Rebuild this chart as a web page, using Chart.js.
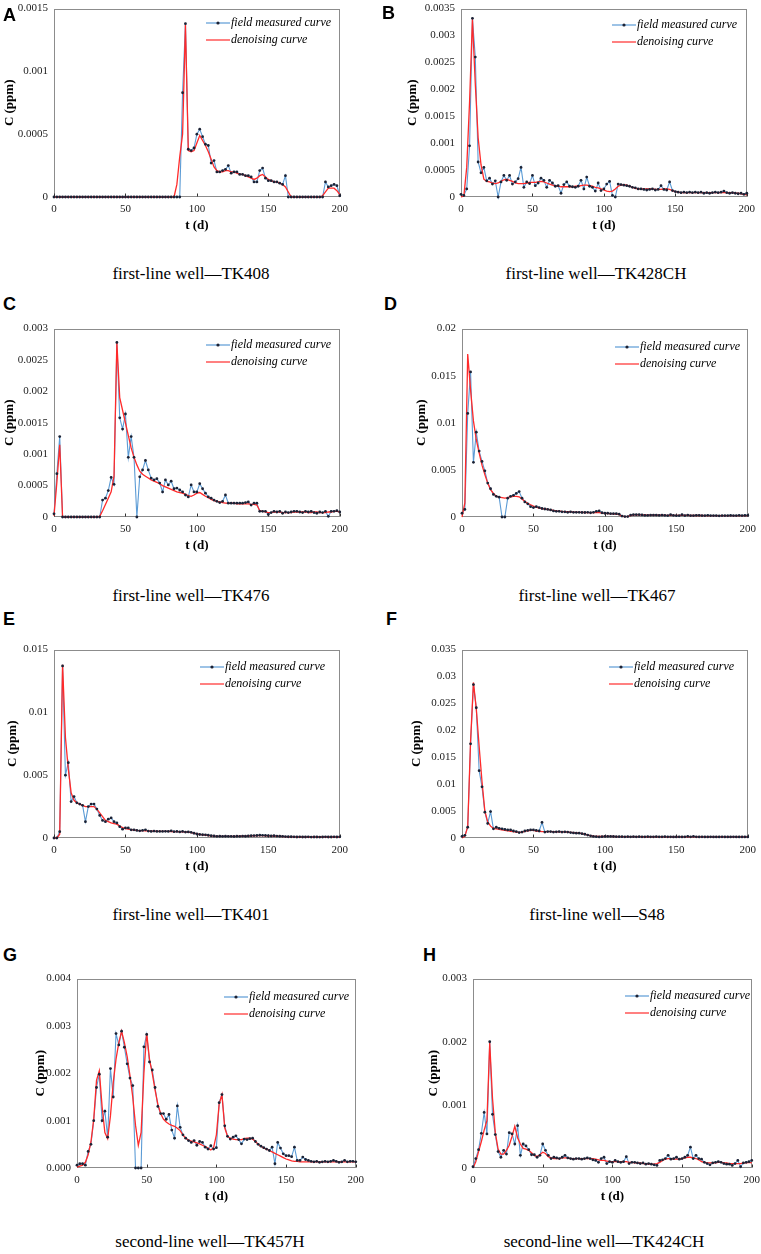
<!DOCTYPE html>
<html>
<head>
<meta charset="utf-8">
<script src="https://cdn.jsdelivr.net/npm/chart.js@4.4.1/dist/chart.umd.min.js"></script>
<style>
  html, body { margin: 0; padding: 0; background: #fff; }
  #page { position: relative; width: 761px; height: 1254px; overflow: hidden; }
  .panel { position: absolute; }
  .letter { position: absolute; font: bold 18px "Liberation Sans", Arial, sans-serif; line-height: 18px; color: #000; }
  .caption { position: absolute; width: 300px; text-align: center; font: 17px "Liberation Serif", "Times New Roman", serif;
             line-height: 18px; color: #000; white-space: nowrap; }
</style>
</head>
<body>
<div id="page"></div>
<script>
// sampling days (x axis)
const DAYS = [
  0, 2, 4, 6, 8, 10, 12, 14, 16, 18,
  20, 22, 24, 26, 28, 30, 32, 34, 36, 38,
  40, 42, 44, 46, 48, 50, 52, 54, 56, 58,
  60, 62, 64, 66, 68, 70, 72, 74, 76, 78,
  80, 82, 84, 86, 88, 90, 92, 94, 96, 98,
  100, 102, 104, 106, 108, 110, 112, 114, 116, 118,
  120, 122, 124, 126, 128, 130, 132, 134, 136, 138,
  140, 142, 144, 146, 148, 150, 152, 154, 156, 158,
  160, 162, 164, 166, 168, 170, 172, 174, 176, 178,
  180, 182, 184, 186, 188, 190, 192, 194, 196, 198,
  200
];
const X_TICKS = ['0', '50', '100', '150', '200'];

// all concentrations below are in units of 1e-4 ppm
const tk408Field = [
  0, 0, 0, 0, 0, 0, 0, 0, 0, 0,
  0, 0, 0, 0, 0, 0, 0, 0, 0, 0,
  0, 0, 0, 0, 0, 0, 0, 0, 0, 0,
  0, 0, 0, 0, 0, 0, 0, 0, 0, 0,
  0, 0, 0, 0, 0, 8.3, 13.8, 3.8, 3.7, 3.9,
  5.0, 5.4, 4.8, 4.2, 4.1, 2.7, 2.9, 2.0, 2.0, 2.1,
  2.2, 2.5, 1.9, 2.0, 2.0, 1.8, 1.8, 1.7, 1.7, 1.6,
  1.2, 1.2, 2.1, 2.3, 1.5, 1.3, 1.3, 1.2, 1.2, 1.1,
  1.0, 1.7, 0, 0, 0, 0, 0, 0, 0, 0,
  0, 0, 0, 0, 0, 1.2, 0.8, 0.9, 1.0, 0.9,
  0.1
];
const tk408Denoise = [
  0, 0, 0, 0, 0, 0, 0, 0, 0, 0,
  0, 0, 0, 0, 0, 0, 0, 0, 0, 0,
  0, 0, 0, 0, 0, 0, 0, 0, 0, 0,
  0, 0, 0, 0, 0, 0, 0, 0, 0, 0,
  0, 0, 0, 1.0, 3.2, 5.0, 13.7, 3.7, 3.6, 3.7,
  4.3, 4.9, 4.5, 4.1, 3.6, 3.0, 2.4, 2.1, 2.0, 2.0,
  2.1, 2.1, 2.0, 2.0, 1.9, 1.8, 1.8, 1.7, 1.6, 1.5,
  1.4, 1.5, 1.7, 1.8, 1.6, 1.4, 1.3, 1.2, 1.2, 1.1,
  1.0, 0.8, 0.4, 0, 0, 0, 0, 0, 0, 0,
  0, 0, 0, 0, 0.1, 0.4, 0.7, 0.7, 0.7, 0.5,
  0.2
];

const tk428chField = [
  0.5, 0.3, 1.5, 9.5, 33.2, 26.0, 6.5, 4.5, 5.5, 3.0,
  3.5, 2.4, 3.0, 0, 2.8, 4.0, 3.1, 4.0, 2.4, 2.8,
  3.4, 5.5, 1.8, 2.8, 2.5, 4.0, 2.1, 2.6, 3.5, 3.1,
  1.8, 3.1, 2.6, 2.0, 2.1, 0.7, 2.3, 2.8, 2.0, 1.9,
  1.8, 2.0, 3.1, 1.5, 3.7, 2.0, 1.8, 1.1, 2.6, 1.2,
  1.5, 2.4, 2.9, 0.3, 0, 2.4, 2.3, 2.2, 2.1, 2.0,
  1.8, 1.7, 1.5, 1.5, 1.4, 1.3, 1.4, 1.5, 1.3, 1.4,
  2.1, 1.4, 1.3, 2.8, 1.2, 1.0, 0.9, 0.8, 0.9, 0.8,
  0.9, 0.8, 0.9, 0.8, 0.9, 0.7, 0.8, 0.7, 0.8, 0.9,
  0.8, 0.9, 1.1, 0.8, 0.7, 0.8, 0.7, 0.6, 0.7, 0.5,
  0.7
];
const tk428chDenoise = [
  0, 0.2, 5.5, 17.7, 33.0, 21.0, 11.0, 6.0, 3.3, 2.9,
  2.8, 2.6, 2.5, 2.6, 2.9, 3.2, 3.3, 3.1, 2.9, 2.6,
  2.5, 2.5, 2.5, 2.6, 2.7, 2.7, 2.7, 2.8, 2.9, 2.8,
  2.6, 2.4, 2.2, 2.1, 2.0, 1.9, 1.9, 1.9, 1.9, 1.9,
  2.0, 2.0, 2.1, 2.2, 2.2, 2.1, 2.0, 1.8, 1.7, 1.5,
  1.3, 1.1, 1.0, 1.1, 1.5, 2.0, 2.2, 2.3, 2.2, 2.0,
  1.8, 1.6, 1.5, 1.5, 1.5, 1.5, 1.5, 1.5, 1.4, 1.4,
  1.4, 1.5, 1.5, 1.4, 1.2, 1.0, 0.9, 0.8, 0.8, 0.8,
  0.8, 0.8, 0.8, 0.8, 0.8, 0.8, 0.8, 0.8, 0.8, 0.8,
  0.8, 0.8, 0.8, 0.8, 0.8, 0.8, 0.7, 0.7, 0.6, 0.5,
  0.4
];

const tk476Field = [
  0.5, 6.9, 12.8, 0, 0, 0, 0, 0, 0, 0,
  0, 0, 0, 0, 0, 0, 0, 2.7, 3.0, 4.2,
  6.3, 5.2, 27.8, 15.8, 14.0, 16.4, 9.5, 12.8, 9.5, 0,
  6.4, 7.5, 9.0, 7.5, 6.2, 5.9, 6.1, 5.4, 4.0, 5.9,
  5.1, 5.7, 4.5, 4.6, 4.3, 4.0, 3.5, 3.2, 5.1, 4.0,
  4.0, 5.3, 4.5, 3.8, 3.2, 3.0, 2.7, 2.5, 2.3, 2.5,
  3.5, 2.2, 2.2, 2.2, 2.2, 2.2, 2.2, 2.3, 2.4, 1.9,
  2.2, 2.2, 0.9, 0.9, 0.9, 0.4, 0.7, 0.9, 0.8, 0.9,
  0.6, 0.8, 0.7, 0.8, 0.9, 0.9, 0.8, 0.7, 0.9, 0.8,
  0.9, 0.7, 0.6, 0.8, 0.7, 0.9, 0.1, 0.9, 0.9, 1.0,
  0.8
];
const tk476Denoise = [
  0.2, 5.5, 11.5, 0, 0, 0, 0, 0, 0, 0,
  0, 0, 0, 0, 0, 0, 0.1, 1.0, 2.0, 3.0,
  4.0, 6.5, 27.8, 19.0, 17.0, 15.0, 13.0, 11.0, 9.5, 8.3,
  7.3, 6.8, 6.5, 6.2, 5.9, 5.7, 5.5, 5.3, 5.0, 4.8,
  4.6, 4.4, 4.2, 4.0, 3.9, 3.8, 3.6, 3.4, 3.3, 3.5,
  3.8, 3.9, 3.6, 3.3, 3.1, 2.8, 2.6, 2.5, 2.4, 2.3,
  2.2, 2.2, 2.2, 2.2, 2.1, 2.1, 2.1, 2.1, 2.1, 2.0,
  2.0, 1.9, 1.0, 0.9, 0.8, 0.7, 0.7, 0.8, 0.8, 0.8,
  0.7, 0.7, 0.7, 0.7, 0.8, 0.8, 0.8, 0.8, 0.8, 0.7,
  0.7, 0.8, 0.8, 0.7, 0.7, 0.7, 0.8, 0.8, 0.9, 0.9,
  0.8
];

const tk467Field = [
  4, 8, 110, 154, 58, 90, 70, 59, 49, 36,
  30, 24, 22, 21, 0, 0, 20, 22, 23, 25,
  27, 20, 16, 14, 11, 10, 11, 10, 9, 8.5,
  8, 7.5, 6.5, 6, 6, 5.5, 5.5, 5, 5.5, 5,
  5, 5, 4.8, 4.8, 5, 4.5, 5, 6, 6.5, 4.5,
  4, 4, 3.5, 3.5, 3.5, 3, 1, 0.5, 0.5, 2,
  2.5, 2.5, 2.5, 2.2, 1.8, 1.8, 2, 2, 2, 1.8,
  2, 1.8, 1.5, 2.5, 1.8, 1.5, 1.5, 2.5, 1.5, 2,
  1.5, 1.5, 1.8, 1.8, 1.5, 1.5, 1.8, 1.5, 1.5, 1.5,
  1.2, 1.5, 1.5, 1.5, 1.7, 1.5, 1.5, 1.8, 1.5, 1.7,
  1.7
];
const tk467Denoise = [
  0, 15, 173, 135, 102, 82, 68, 55, 45, 36,
  29, 25, 22, 21, 20.5, 20, 20.5, 21.5, 22, 22,
  21.5, 19, 16.5, 14.5, 13, 11.5, 10.5, 9.5, 9, 8.5,
  8, 7.5, 7, 6.6, 6.3, 6, 5.8, 5.6, 5.4, 5.2,
  5.1, 5, 4.9, 4.8, 4.7, 4.6, 4.6, 4.8, 4.6, 4.2,
  3.9, 3.7, 3.5, 3.4, 3.2, 2.5, 0.8, 0.3, 0.6, 1.5,
  2.2, 2.3, 2.3, 2.2, 2.1, 2.0, 2.0, 2.0, 2.0, 1.9,
  1.9, 1.8, 1.8, 1.8, 1.8, 1.7, 1.7, 1.7, 1.7, 1.7,
  1.6, 1.6, 1.6, 1.6, 1.6, 1.5, 1.5, 1.5, 1.5, 1.4,
  1.4, 1.4, 1.5, 1.5, 1.5, 1.5, 1.5, 1.5, 1.5, 1.5,
  1.5
];

const tk401Field = [
  0, 0, 5, 137, 50, 60, 29, 33, 28, 27,
  26, 13, 25, 27, 27, 23, 18, 14, 13, 15,
  16, 13, 12, 9, 7, 8, 8, 6.5, 6.5, 6,
  5.7, 6, 6.5, 5.5, 5.2, 5.5, 5.2, 5.2, 5.2, 5.3,
  5.2, 5.7, 5, 5.2, 4.8, 5.2, 4.7, 4.8, 4.5, 3.8,
  3.2, 2.8, 2.6, 2.5, 2.2, 1.8, 1.6, 1.3, 1.4, 1.3,
  1.4, 1.3, 1.3, 1.2, 1.4, 1.3, 1.5, 1.4, 1.6, 1.8,
  1.9, 2.0, 2.2, 2.1, 2.0, 1.8, 1.6, 1.8, 1.5, 1.4,
  1.3, 1.1, 1.0, 1.0, 0.9, 0.8, 0.9, 0.8, 0.8, 0.9,
  0.7, 0.8, 0.8, 0.7, 0.8, 0.9, 0.8, 0.8, 0.9, 0.8,
  0.9
];
const tk401Denoise = [
  0, 0, 3, 138, 80, 55, 36, 30, 28, 27,
  26, 25, 25, 25, 25, 23, 20, 17, 14, 13,
  12, 11.5, 11, 9.5, 8.3, 7.5, 7, 6.6, 6.3, 6,
  5.9, 5.8, 5.7, 5.6, 5.5, 5.4, 5.3, 5.3, 5.2, 5.2,
  5.2, 5.1, 5.1, 5, 5, 4.9, 4.8, 4.6, 4.3, 3.8,
  3.3, 2.9, 2.6, 2.3, 2.0, 1.7, 1.5, 1.3, 1.3, 1.3,
  1.3, 1.3, 1.3, 1.3, 1.3, 1.4, 1.4, 1.5, 1.6, 1.7,
  1.8, 1.9, 1.9, 1.9, 1.8, 1.7, 1.6, 1.5, 1.4, 1.3,
  1.2, 1.1, 1.0, 0.9, 0.9, 0.8, 0.8, 0.8, 0.8, 0.8,
  0.8, 0.8, 0.8, 0.8, 0.8, 0.8, 0.8, 0.8, 0.8, 0.8,
  0.8
];

const s48Field = [
  3, 5, 20, 175, 285, 242, 125, 95, 48, 27,
  49, 17, 20, 18, 17, 16, 15, 15, 13, 12,
  10, 11, 13, 14, 15, 15, 14, 13, 29, 11,
  12, 12, 11, 11.5, 12, 11, 11.5, 11, 10, 9.5,
  9, 9, 8, 7, 5.5, 4, 3, 2.5, 2, 2.5,
  3, 3, 3, 2.8, 2.5, 2.5, 2.4, 2.2, 2.4, 2.2,
  2.4, 2.2, 2.4, 2.2, 2.2, 2.4, 2.2, 2.2, 2.4, 2.2,
  2.2, 2.4, 2.2, 2.2, 2, 2, 2.2, 2, 2.2, 3,
  2.2, 3, 2.2, 2, 2.2, 2, 2, 2.2, 2, 2,
  2, 2.2, 2, 2, 2, 2.2, 2, 2, 2, 2,
  2
];
const s48Denoise = [
  0, 3, 21, 180, 289, 240, 170, 105, 50, 30,
  22, 18, 17, 16, 15, 14, 13.5, 12.5, 12, 11,
  10.5, 11, 12.5, 13.5, 14, 14, 13, 12.5, 12, 12,
  12, 12, 12, 11.5, 11.5, 11.5, 11.5, 11, 10.5, 10,
  9.5, 9, 8, 7, 5.5, 4.5, 3.5, 3, 2.8, 2.8,
  3, 3, 3, 2.8, 2.7, 2.6, 2.5, 2.5, 2.5, 2.4,
  2.4, 2.4, 2.4, 2.3, 2.3, 2.3, 2.3, 2.3, 2.2, 2.2,
  2.2, 2.2, 2.2, 2.2, 2.1, 2.1, 2.1, 2.1, 2.2, 2.3,
  2.3, 2.3, 2.2, 2.1, 2.1, 2.0, 2.0, 2.0, 2.0, 2.0,
  2.0, 2.0, 2.0, 2.0, 2.0, 2.0, 2.0, 2.0, 2.0, 2.0,
  2.0
];

const tk457hField = [
  0.6, 0.9, 0.9, 0.6, 3.5, 5.0, 10.0, 17.0, 19.8, 10.0,
  12.0, 6.5, 21.0, 15.0, 28.4, 26.0, 28.9, 25.5, 22.0, 19.0,
  17.4, 0, 0, 0, 25.6, 28.2, 22.4, 20.7, 17.0, 13.0,
  11.5, 11.5, 10.3, 11.3, 8.0, 6.3, 13.1, 8.6, 7.0, 6.3,
  5.8, 5.4, 5.8, 4.8, 5.6, 5.4, 4.4, 4.0, 4.7, 4.0,
  4.3, 13.8, 15.5, 8.9, 6.7, 6.1, 6.5, 6.8, 6.0, 5.1,
  6.1, 6.0, 6.2, 6.3, 5.6, 5.0, 4.6, 4.3, 4.0, 3.7,
  4.4, 0.9, 5.4, 4.2, 3.0, 2.6, 2.6, 2.4, 4.4, 1.6,
  1.6, 2.3, 1.8, 1.6, 1.4, 1.3, 1.4, 1.2, 1.3, 1.4,
  1.3, 1.4, 1.6, 1.4, 1.2, 1.3, 1.6, 1.3, 1.4, 1.4,
  1.3
];
const tk457hDenoise = [
  0.2, 0.4, 0.6, 1.2, 2.8, 5.5, 10.3, 18.5, 20.5, 13.0,
  7.5, 6.2, 11.0, 18.0, 23.0, 26.5, 28.9, 26.5, 23.5, 19.5,
  15.0, 9.0, 4.8, 7.5, 20.0, 28.5, 23.0, 20.0, 16.5, 13.5,
  11.5, 10.3, 9.7, 9.3, 9.0, 8.8, 8.4, 7.9, 7.0, 6.3,
  5.9, 5.7, 5.5, 5.3, 5.1, 4.8, 4.5, 4.2, 3.8, 4.3,
  7.0, 13.5, 15.5, 8.5, 6.7, 6.3, 6.1, 6.0, 6.0, 6.0,
  6.2, 6.3, 6.3, 6.1, 5.6, 5.0, 4.6, 4.2, 4.0, 3.7,
  3.4, 3.1, 2.8, 2.5, 2.2, 1.9, 1.7, 1.5, 1.4, 1.4,
  1.3, 1.3, 1.3, 1.3, 1.3, 1.3, 1.3, 1.3, 1.3, 1.3,
  1.3, 1.3, 1.3, 1.3, 1.3, 1.3, 1.3, 1.3, 1.3, 1.3,
  1.3
];

const tk424chField = [
  0.2, 1.5, 2.9, 5.5, 8.8, 5.4, 20.0, 8.5, 5.3, 2.6,
  1.7, 2.8, 2.2, 5.6, 5.4, 3.8, 6.7, 2.0, 3.8, 3.5,
  2.9, 2.1, 2.1, 1.7, 2.0, 3.8, 2.8, 2.0, 1.5, 1.7,
  1.6, 1.5, 1.7, 2.0, 1.6, 1.5, 1.4, 1.5, 1.5, 1.4,
  1.5, 1.6, 1.5, 1.3, 1.2, 0.9, 1.5, 1.7, 0.7, 1.0,
  0.9, 1.2, 1.0, 0.9, 1.0, 1.8, 0.7, 0.9, 0.9, 0.8,
  0.7, 0.8, 0.6, 0.7, 0.6, 0.5, 0.4, 1.2, 1.3, 1.5,
  2.0, 1.4, 1.5, 1.7, 1.4, 1.5, 1.7, 2.0, 3.3, 1.5,
  2.0, 1.5, 1.4, 0.9, 0.7, 0.5, 0.8, 0.9, 1.0, 0.9,
  0.7, 0.6, 0.6, 0.4, 0.7, 1.2, 0.2, 0.8, 0.9, 1.0,
  1.2
];
const tk424chDenoise = [
  0, 1.0, 2.6, 4.2, 6.0, 7.5, 19.8, 11.0, 5.6, 3.0,
  2.2, 2.2, 2.8, 3.6, 5.0, 6.6, 4.8, 3.8, 3.1, 3.0,
  2.8, 2.4, 2.0, 1.8, 2.1, 2.5, 2.3, 1.8, 1.6, 1.5,
  1.5, 1.5, 1.6, 1.6, 1.6, 1.5, 1.5, 1.5, 1.5, 1.5,
  1.5, 1.5, 1.5, 1.5, 1.4, 1.3, 1.2, 1.2, 1.1, 1.0,
  1.0, 1.0, 1.0, 1.0, 1.0, 1.0, 0.9, 0.9, 0.8, 0.8,
  0.8, 0.7, 0.7, 0.6, 0.6, 0.6, 0.7, 0.9, 1.2, 1.4,
  1.5, 1.5, 1.4, 1.4, 1.4, 1.5, 1.6, 1.7, 1.7, 1.6,
  1.5, 1.3, 1.0, 0.9, 0.8, 0.8, 0.8, 0.8, 0.9, 0.9,
  0.8, 0.8, 0.7, 0.7, 0.7, 0.7, 0.7, 0.8, 0.8, 0.9,
  0.8
];

// y tick labels in ppm, one per step
const TICKS_A = ['0', '0.0005', '0.001', '0.0015'];
const TICKS_B = ['0', '0.0005', '0.001', '0.0015', '0.002', '0.0025', '0.003', '0.0035'];
const TICKS_C = ['0', '0.0005', '0.001', '0.0015', '0.002', '0.0025', '0.003'];
const TICKS_D = ['0', '0.005', '0.01', '0.015', '0.02'];
const TICKS_E = ['0', '0.005', '0.01', '0.015'];
const TICKS_F = ['0', '0.005', '0.01', '0.015', '0.02', '0.025', '0.03', '0.035'];
const TICKS_G = ['0.000', '0.001', '0.002', '0.003', '0.004'];
const TICKS_H = ['0', '0.001', '0.002', '0.003'];

const SERIF = '"Liberation Serif", "Times New Roman", serif';
const PAD_TOP = 10, PAD_RIGHT = 14, PAD_BOTTOM = 2, X_AXIS_H = 36;

// page layout: plot rect [l, t, r, b], y-title centre, legend line start / first row centre
const PANELS = [
  { letter: 'A', at: [3, 6], caption: 'first-line well—TK408', capAt: [191, 275], plot: [54, 6, 340, 197], titleX: 10,
    legend: [206, 23], field: tk408Field, denoise: tk408Denoise, yMax: 15, yStep: 5, yTicks: TICKS_A },
  { letter: 'B', at: [382, 4], caption: 'first-line well—TK428CH', capAt: [596, 275], plot: [461, 6, 747, 197], titleX: 413,
    legend: [612, 25], field: tk428chField, denoise: tk428chDenoise, yMax: 35, yStep: 5, yTicks: TICKS_B },
  { letter: 'C', at: [3, 295], caption: 'first-line well—TK476', capAt: [191, 597], plot: [54, 326, 340, 517], titleX: 10,
    legend: [206, 345], field: tk476Field, denoise: tk476Denoise, yMax: 30, yStep: 5, yTicks: TICKS_C },
  { letter: 'D', at: [384, 295], caption: 'first-line well—TK467', capAt: [597, 597], plot: [462, 326, 748, 517], titleX: 422,
    legend: [615, 347], field: tk467Field, denoise: tk467Denoise, yMax: 200, yStep: 50, yTicks: TICKS_D },
  { letter: 'E', at: [3, 610], caption: 'first-line well—TK401', capAt: [191, 916], plot: [54, 647, 340, 838], titleX: 13,
    legend: [200, 667], field: tk401Field, denoise: tk401Denoise, yMax: 150, yStep: 50, yTicks: TICKS_E },
  { letter: 'F', at: [386, 610], caption: 'first-line well—S48', capAt: [597, 916], plot: [462, 647, 748, 838], titleX: 417,
    legend: [609, 667], field: s48Field, denoise: s48Denoise, yMax: 350, yStep: 50, yTicks: TICKS_F },
  { letter: 'G', at: [3, 946], caption: 'second-line well—TK457H', capAt: [210, 1243], plot: [77, 976, 356, 1168], titleX: 41,
    legend: [224, 997], field: tk457hField, denoise: tk457hDenoise, yMax: 40, yStep: 10, yTicks: TICKS_G },
  { letter: 'H', at: [423, 946], caption: 'second-line well—TK424CH', capAt: [604, 1243], plot: [473, 976, 752, 1168], titleX: 434,
    legend: [625, 996], field: tk424chField, denoise: tk424chDenoise, yMax: 30, yStep: 10, yTicks: TICKS_H },
];

function legendIcon(color, dot) {
  const c = document.createElement('canvas');
  c.width = 24; c.height = 6;
  const g = c.getContext('2d');
  g.strokeStyle = color; g.lineWidth = 1.2;
  g.beginPath(); g.moveTo(0, 3); g.lineTo(24, 3); g.stroke();
  if (dot) {
    g.fillStyle = '#1b2235';
    g.beginPath(); g.arc(12, 3, 1.6, 0, Math.PI * 2); g.fill();
  }
  return c;
}
const ICON_FIELD = legendIcon('#5b9bd5', true);
const ICON_DENOISE = legendIcon('#ff2a2a', false);

// box round the plot, short inward x ticks, legend moved inside the plot
const framePlugin = {
  id: 'frame',
  afterLayout(chart, args, opts) {
    const lg = chart.legend, a = chart.chartArea;
    if (!lg) return;
    lg.left = opts.legendX; lg.top = opts.legendY;
    lg.right = chart.width; lg.bottom = a.bottom;
  },
  beforeDatasetsDraw(chart) {
    const { ctx, chartArea: a, scales: { x } } = chart;
    ctx.save();
    ctx.strokeStyle = '#8c8c8c';
    ctx.lineWidth = 1;
    const l = Math.round(a.left) + 0.5, t = Math.round(a.top) + 0.5;
    const r = Math.round(a.right) - 0.5, b = Math.round(a.bottom) - 0.5;
    ctx.strokeRect(l, t, r - l, b - t);
    ctx.strokeStyle = '#333';
    x.ticks.forEach(tk => {
      const px = Math.round(x.getPixelForValue(tk.value)) + 0.5;
      ctx.beginPath(); ctx.moveTo(px, b); ctx.lineTo(px, b - 3); ctx.stroke();
    });
    ctx.restore();
  }
};

const page = document.getElementById('page');

PANELS.forEach(p => {
  const [pl, pt, pr, pb] = p.plot;
  const left = p.titleX - 8;
  const top = pt - PAD_TOP;
  const yAxisW = pl - left;

  const box = document.createElement('div');
  box.className = 'panel';
  box.style.left = left + 'px';
  box.style.top = top + 'px';
  box.style.width = (pr + PAD_RIGHT - left) + 'px';
  box.style.height = (PAD_TOP + (pb - pt) + X_AXIS_H + PAD_BOTTOM) + 'px';
  const canvas = document.createElement('canvas');
  box.appendChild(canvas);
  page.appendChild(box);

  const letter = document.createElement('div');
  letter.className = 'letter';
  letter.textContent = p.letter;
  letter.style.left = p.at[0] + 'px';
  letter.style.top = p.at[1] + 'px';
  page.appendChild(letter);

  const cap = document.createElement('div');
  cap.className = 'caption';
  cap.textContent = p.caption;
  cap.style.left = (p.capAt[0] - 150) + 'px';
  cap.style.top = (p.capAt[1] - 10) + 'px';
  page.appendChild(cap);

  const fieldPts = DAYS.map((d, i) => ({ x: d, y: p.field[i] }));
  const denoisePts = DAYS.map((d, i) => ({ x: d, y: p.denoise[i] }));

  new Chart(canvas, {
    type: 'line',
    data: {
      datasets: [
        {
          label: 'field measured curve',
          data: fieldPts,
          showLine: false,
          pointRadius: 1.4,
          pointBorderWidth: 0,
          pointBackgroundColor: '#1b2235',
          clip: false,
        },
        {
          label: 'denoising curve',
          data: denoisePts,
          borderColor: '#ff2a2a',
          borderWidth: 1.3,
          pointRadius: 0,
          fill: false,
          clip: false,
        },
        {
          label: 'field line',
          data: fieldPts,
          borderColor: '#5b9bd5',
          borderWidth: 1.1,
          pointRadius: 0,
          fill: false,
          clip: false,
        }
      ]
    },
    options: {
      responsive: true,
      maintainAspectRatio: false,
      animation: false,
      events: [],
      layout: { padding: { top: PAD_TOP, right: PAD_RIGHT, bottom: PAD_BOTTOM, left: 0 } },
      scales: {
        x: {
          type: 'linear',
          min: 0,
          max: 200,
          afterFit: s => { s.height = X_AXIS_H; },
          grid: { display: false, drawTicks: false },
          border: { display: false },
          ticks: {
            stepSize: 50,
            padding: 6,
            maxRotation: 0,
            autoSkip: false,
            color: '#222',
            font: { family: SERIF, size: 11 },
            callback: (v, i) => X_TICKS[i],
          },
          title: {
            display: true,
            text: 't (d)',
            padding: 0,
            color: '#000',
            font: { family: SERIF, size: 13, weight: 'bold' },
          },
        },
        y: {
          min: 0,
          max: p.yMax,
          afterFit: s => { s.width = yAxisW; },
          grid: { display: false, drawTicks: false },
          border: { display: false },
          ticks: {
            stepSize: p.yStep,
            padding: 6,
            autoSkip: false,
            color: '#222',
            font: { family: SERIF, size: 11 },
            callback: (v, i) => p.yTicks[i],
          },
          title: {
            display: true,
            text: 'C (ppm)',
            padding: 0,
            color: '#000',
            font: { family: SERIF, size: 13, weight: 'bold' },
          },
        },
      },
      plugins: {
        legend: {
          position: 'chartArea',
          align: 'start',
          labels: {
            usePointStyle: true,
            pointStyleWidth: 14,
            boxHeight: 12,
            padding: 5,
            color: '#111',
            font: { family: SERIF, size: 12, style: 'italic' },
            generateLabels: () => [
              { text: 'field measured curve', pointStyle: ICON_FIELD, fillStyle: 'transparent', strokeStyle: 'transparent', lineWidth: 0, hidden: false, datasetIndex: 0 },
              { text: 'denoising curve', pointStyle: ICON_DENOISE, fillStyle: 'transparent', strokeStyle: 'transparent', lineWidth: 0, hidden: false, datasetIndex: 1 },
            ],
          },
        },
        tooltip: { enabled: false },
        frame: {
          legendX: p.legend[0] + 0 - left,
          legendY: p.legend[1] - 11 - top,
        },
      },
    },
    plugins: [framePlugin],
  });
});
</script>
</body>
</html>
